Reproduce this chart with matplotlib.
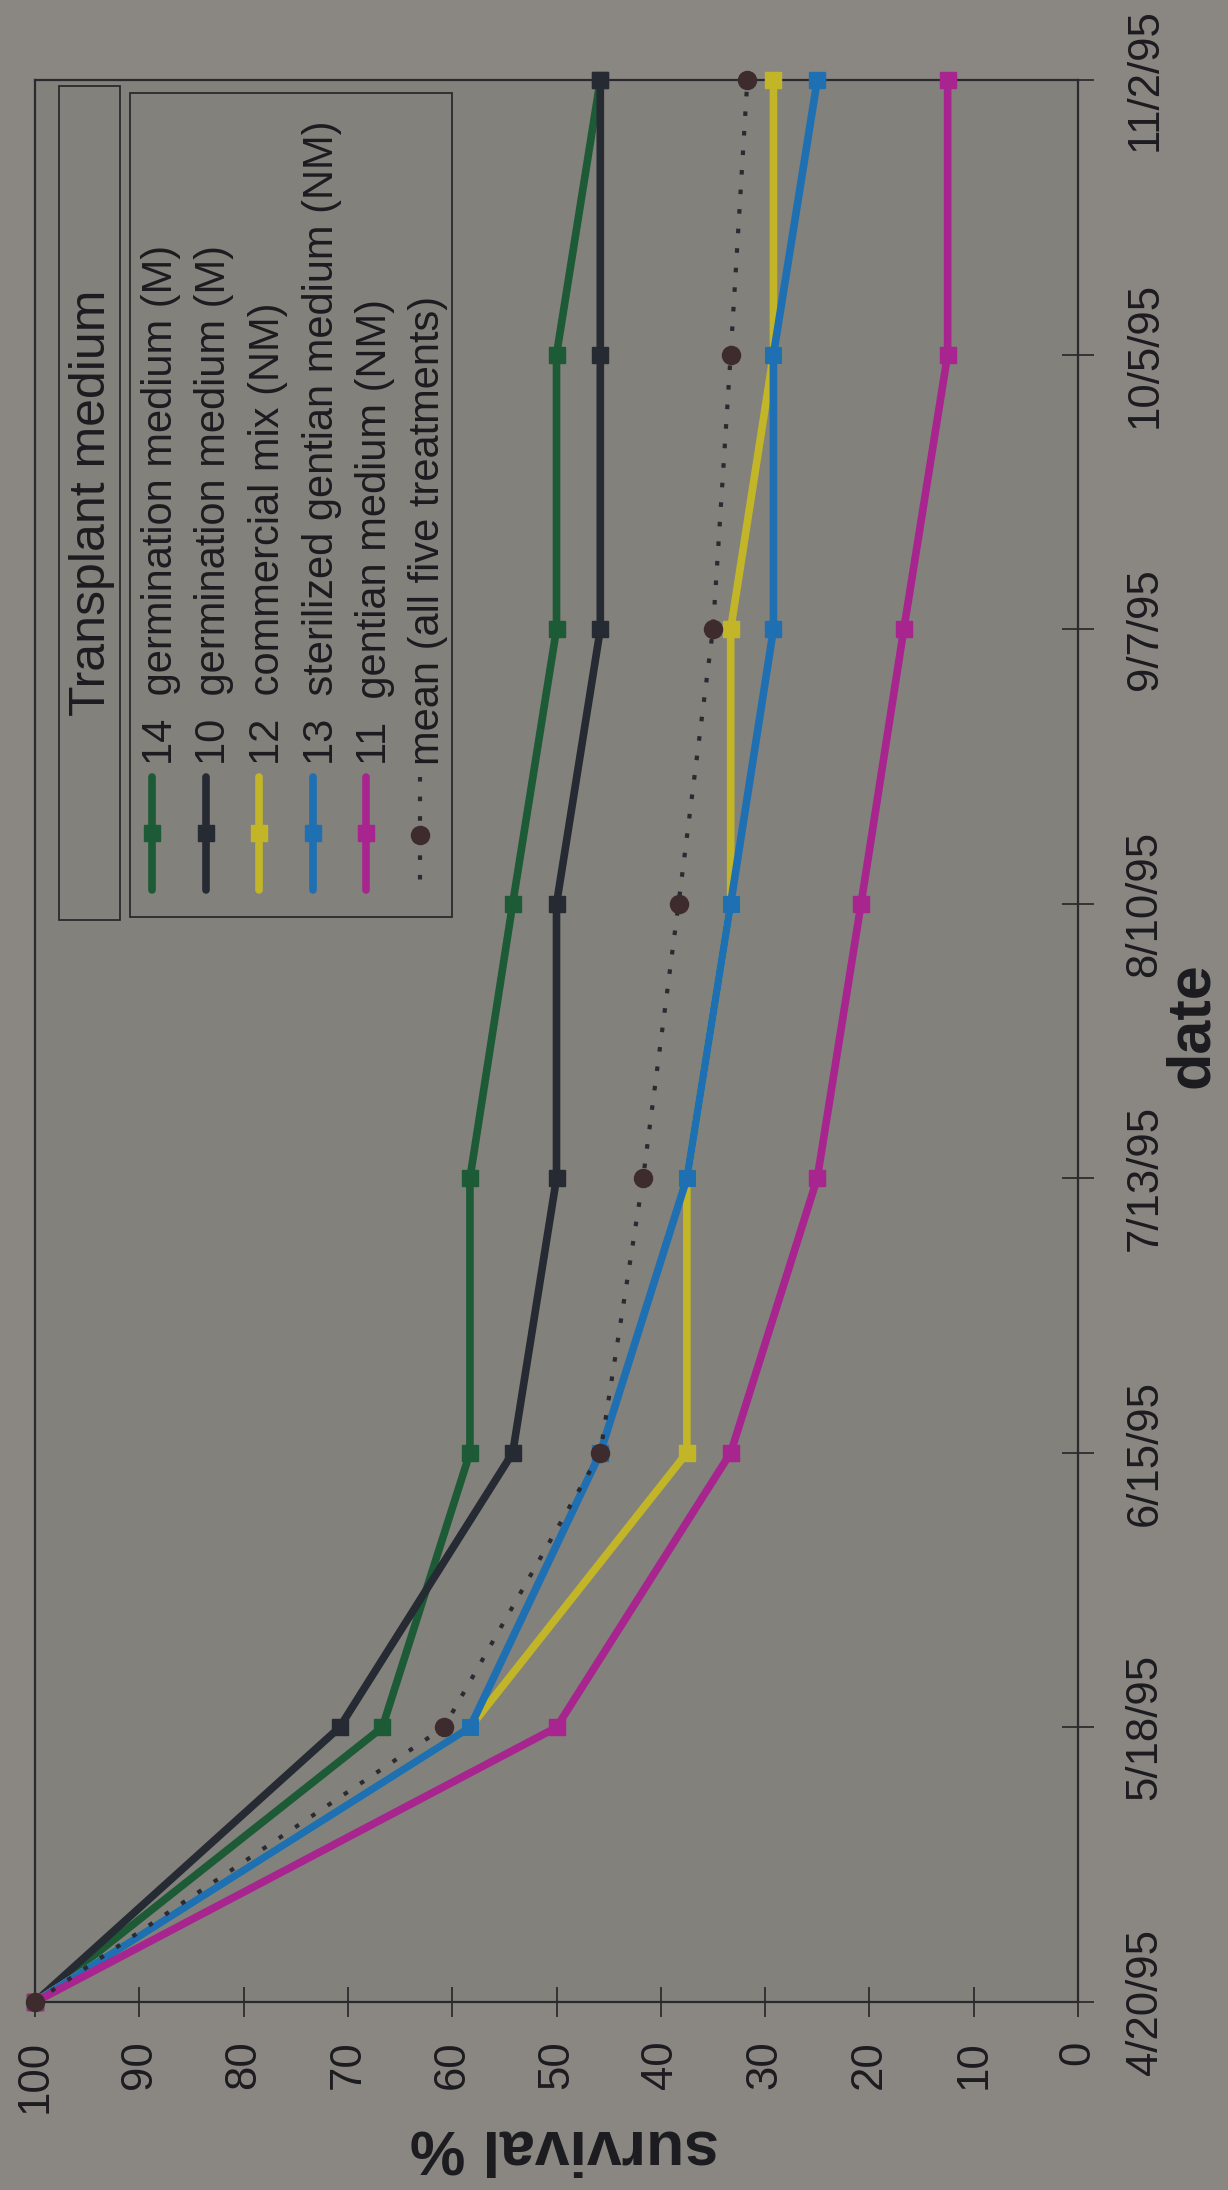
import matplotlib
matplotlib.use('Agg')
import matplotlib.pyplot as plt
from matplotlib.patches import Rectangle

plt.rcParams['font.family'] = ['Liberation Sans', 'DejaVu Sans']

# survival (%) of transplants per treatment on each census date
dates = ['4/20/95', '5/18/95', '6/15/95', '7/13/95', '8/10/95', '9/7/95', '10/5/95', '11/2/95']
germ_14 = [100, 66.7, 58.3, 58.3, 54.2, 50.0, 50.0, 45.8]
germ_10 = [100, 70.8, 54.2, 50.0, 50.0, 45.8, 45.8, 45.8]
commercial_12 = [100, 58.3, 37.5, 37.5, 33.3, 33.3, 29.2, 29.2]
sterilized_13 = [100, 58.3, 45.8, 37.5, 33.3, 29.2, 29.2, 25.0]
gentian_11 = [100, 50.0, 33.3, 25.0, 20.8, 16.7, 12.5, 12.5]
mean_all = [100, 60.8, 45.8, 41.7, 38.3, 35.0, 33.3, 31.7]

series = [germ_14, germ_10, commercial_12, sterilized_13, gentian_11]
labels = ['14  germination medium (M)', '10  germination medium (M)',
          '12  commercial mix (NM)', '13  sterilized gentian medium (NM)',
          '11  gentian medium (NM)']
mean_label = 'mean (all five treatments)'
colors = ['#1d5a36', '#262a33', '#c2b628', '#1f70b2', '#a8248f']
mean_color = '#3e2b2d'
ink = '#1c1c20'
survival_ticks = list(range(0, 101, 10))

W, H = 1228, 2190
fig = plt.figure(figsize=(W / 100, H / 100), dpi=100, facecolor='#8a8782')

# chart is laid out sideways: survival runs across, dates run up the page
ax = fig.add_axes([35 / W, 1 - 2002 / H, (1078 - 35) / W, (2002 - 80) / H])
ax.set_facecolor('#83817c')
idx = list(range(len(dates)))

for vals, col in zip(series, colors):
    ax.plot(vals, idx, color=col, lw=5.5, marker='s', ms=12,
            mec=col, mfc=col, solid_joinstyle='miter', clip_on=False, zorder=3)
ax.plot(mean_all, idx, color='#2a2a30', lw=3, ls=(0, (1.1, 3.6)),
        marker='o', ms=13, mfc=mean_color, mec=mean_color, clip_on=False, zorder=4)

ax.set_xlim(100, 0)
ax.set_ylim(0, len(dates) - 1)
ax.set_xticks(survival_ticks)
ax.set_xticklabels([str(t) for t in survival_ticks])
ax.set_yticks(idx)
ax.set_yticklabels(dates)
ax.yaxis.tick_right()

ax.tick_params(axis='x', direction='inout', length=21, width=1.1, color=ink,
               labelsize=31.5, labelcolor=ink, pad=17, labelrotation=90)
ax.tick_params(axis='y', direction='inout', length=23, width=1.1, color=ink,
               labelsize=31.5, labelcolor=ink, pad=22)
plt.setp(ax.get_yticklabels(), rotation=90, va='center')

for s in ax.spines.values():
    s.set_color('#2a2a2e')
    s.set_linewidth(1.6)

ax.text(0.508, -0.0754, 'survival %', transform=ax.transAxes, rotation=180,
        ha='center', va='center', fontsize=45, fontweight='bold', color=ink)
ax.text(1.110, 0.508, 'date', transform=ax.transAxes, rotation=90,
        ha='center', va='center', fontsize=44, fontweight='bold', color=ink)

# legend, built in page pixel coordinates
lg = fig.add_axes([0, 0, 1, 1])
lg.set_xlim(0, W)
lg.set_ylim(H, 0)
lg.axis('off')

lg.add_patch(Rectangle((59, 86), 61, 834, fc='#83817c', ec='#2a2a2e', lw=1.3))
lg.add_patch(Rectangle((130, 93), 322, 824, fc='#83817c', ec='#2a2a2e', lw=1.3))
lg.text(92, 503, 'Transplant medium', rotation=90, ha='center', va='center',
        fontsize=36, color=ink)

for i, (lab, col) in enumerate(zip(labels, colors)):
    x = 152 + 53.5 * i
    lg.plot([x, x, x], [777, 833, 890], color=col, lw=5.5, marker='s', ms=12,
            mec=col, mfc=col, markevery=[1], solid_capstyle='round')
    lg.text(x + 9, 765, lab, rotation=90, ha='center', va='bottom',
            fontsize=30, color=ink)

xm = 152 + 53.5 * 5
lg.plot([xm, xm, xm], [777, 835, 893], color='#2a2a30', lw=3, ls=(0, (1.1, 3.6)),
        marker='o', ms=13, mfc=mean_color, mec=mean_color, markevery=[1])
lg.text(xm + 9, 765, mean_label, rotation=90, ha='center', va='bottom',
        fontsize=30, color=ink)

fig.savefig('out.png', dpi=100, facecolor=fig.get_facecolor())
